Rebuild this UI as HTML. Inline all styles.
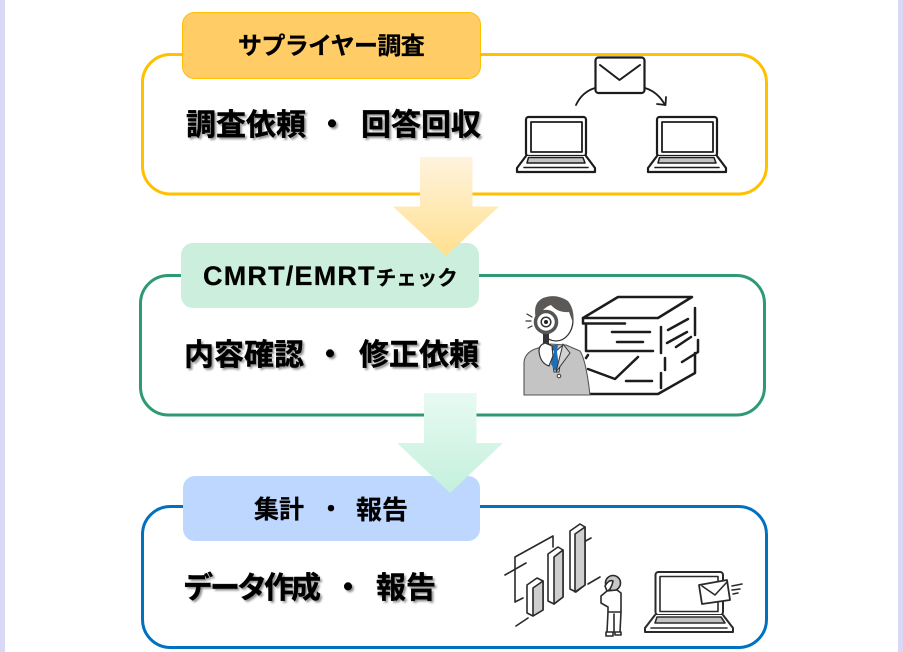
<!DOCTYPE html>
<html lang="ja"><head><meta charset="utf-8"><style>
html,body{margin:0;padding:0;background:#fff}
#p{position:relative;width:903px;height:652px;overflow:hidden;background:#fff;font-family:"Liberation Sans","Noto Sans CJK JP",sans-serif;font-weight:700;color:#000}
svg{position:absolute;left:0;top:0}
.t{position:absolute;white-space:pre;line-height:40px;height:40px}
.m{font-size:30px;text-shadow:2px 2px 2px rgba(0,0,0,.45);-webkit-text-stroke:.4px #000}
.h{font-size:24px;-webkit-text-stroke:.25px #000}
</style></head><body><div id="p">
<svg width="903" height="652" viewBox="0 0 903 652" xmlns="http://www.w3.org/2000/svg">
<defs>
<linearGradient id="g1" x1="0" y1="0" x2="0" y2="1"><stop offset="0" stop-color="#FFF3DE"/><stop offset="1" stop-color="#FFE08F"/></linearGradient>
<linearGradient id="g2" x1="0" y1="0" x2="0" y2="1"><stop offset="0" stop-color="#E8FAF3"/><stop offset="1" stop-color="#C4F0DC"/></linearGradient>
<g id="lap" fill="none" stroke="#1c1c1c" stroke-linejoin="round" stroke-linecap="round">
<rect x="526" y="117" width="60" height="39" rx="2.500" fill="#fff" stroke-width="2.200"/>
<rect x="531" y="122" width="51" height="30" fill="#fff" stroke-width="1.800"/>
<path d="M526 156L517 168V172H595V168L586 156" fill="#fff" stroke-width="2.200"/>
<path d="M528.500 157.500H583L585 163H527Z" fill="#c4c4c4" stroke-width="1.500"/>
<path d="M524 167.500H588" stroke-width="1.600"/>
</g>
</defs>
<rect x="0" y="0" width="5" height="652" fill="#D9D9F7"/>
<rect x="898" y="0" width="5" height="652" fill="#D9D9F7"/>

<rect x="142.500" y="54.500" width="624" height="139.500" rx="28" fill="#fff" stroke="#FFC000" stroke-width="3"/>
<rect x="182.500" y="12.500" width="298" height="66" rx="12" fill="#FFCC66" stroke="#FFC000" stroke-width="1"/>

<rect x="140.500" y="275.500" width="624" height="139.500" rx="28" fill="#fff" stroke="#2E9A72" stroke-width="3"/>
<rect x="181" y="243" width="298" height="65" rx="12" fill="#CCEEDD"/>

<rect x="142.500" y="506.500" width="624" height="141" rx="28" fill="#fff" stroke="#0070C0" stroke-width="3"/>
<rect x="183" y="476" width="297" height="65" rx="12" fill="#BDD7FF"/>

<path d="M420 157H472.500V206.500H499L446 256L393 206.500H420Z" fill="url(#g1)"/>
<path d="M424 393H476.500V443H503L450 493L397 443H424Z" fill="url(#g2)"/>

<!-- icon 1 -->
<use href="#lap"/>
<use href="#lap" x="131"/>
<g fill="none" stroke="#1c1c1c" stroke-linecap="round" stroke-linejoin="round">
<rect x="595.500" y="57.500" width="49" height="35.500" rx="3" fill="#fff" stroke-width="2.200"/>
<path d="M600 65L619.500 80L640 65" stroke-width="2"/>
<path d="M576 105Q582 92 595 88" stroke-width="1.800"/>
<path d="M645 88Q658 92 665 105" stroke-width="1.800"/>
<path d="M657 104L665.500 105L666 97" stroke-width="1.800"/>
</g>

<!-- icon 2 -->
<g fill="none" stroke="#1c1c1c" stroke-width="2.500" stroke-linecap="round" stroke-linejoin="round">
<path d="M583 318L618 297H692L658 318Z" fill="#fff"/>
<path d="M583 318V323.500H625"/>
<path d="M586 325V351H653"/>
<path d="M612 332H650M617 342H643"/>
<path d="M588 369L615 379L638 357"/>
<path d="M588 355L586 358"/>
<path d="M626 381H652"/>
<path d="M590 394H658L695 373V353"/>
<path d="M661 327V353M661 373V388M665 358V370"/>
<path d="M668 330L688 319M667 343L687 332M676 347L691 337"/>
<path d="M682 362L698 352V340"/>
<path d="M695 308V335"/>
</g>
<g stroke-linejoin="round" stroke-linecap="round">
<path d="M524 395V362Q525 353 535 349L550 344L566 345L580 351Q586 360 590 395Z" fill="#c4c4c4" stroke="#555" stroke-width="1.100"/>
<path d="M550 344L555 352L563 345L559 372L554 372Z" fill="#fff" stroke="#333" stroke-width="1"/>
<path d="M552 345H558L557 352L559 366L555 371L551 364L554 352Z" fill="#1E6FB8"/>
<path d="M563 344L556 372L570 353Z" fill="#d2d2d2" stroke="#333" stroke-width="1"/>
<ellipse cx="556" cy="320" rx="17" ry="21" fill="#fff" stroke="#333" stroke-width="1.300"/>
<path d="M537 322Q531 304 543 298Q556 293 568 301Q575 310 573 323L569 312Q558 313 551 305Q541 308 537 322Z" fill="#5c5856"/>
<path d="M543 331H549V346H543Z" fill="#333"/>
<path d="M539 351Q539 345 545 343L552 346L553 356L549 366Q540 363 539 351Z" fill="#fff" stroke="#333" stroke-width="1.200"/>
<circle cx="546" cy="322" r="10.500" fill="#fff" stroke="#555" stroke-width="3.500"/>
<circle cx="546" cy="322" r="4.800" fill="#fff" stroke="#333" stroke-width="1.500"/>
<circle cx="546" cy="322" r="2" fill="#222"/>
<path d="M527 314L532 317M526 321H531M528 328L532 326" stroke="#333" stroke-width="1.200" fill="none"/>
<circle cx="559" cy="376" r="1.800" fill="#fff" stroke="#333"/>
</g>

<!-- icon 3 -->
<g fill="none" stroke="#2a2a2a" stroke-width="1.600" stroke-linecap="round" stroke-linejoin="round">
<path d="M523 598L515 602V557L553 536V547"/>
<path d="M505 575L526 563M516 626L528 618M582 543L591 538M588 584L600 577"/>
<path d="M527 585L537 578L543 581V610L533 616L527 613Z" fill="#fff"/>
<path d="M533 588L543 581V610L533 616Z" fill="#cfcfcf"/>
<path d="M548 554L558 547L563 550V597L554 604L548 601Z" fill="#fff"/>
<path d="M554 557L563 550V597L554 604Z" fill="#cfcfcf"/>
<path d="M570 531L580 524L585 527V585L576 592L570 589Z" fill="#fff"/>
<path d="M575 534L585 527V585L575 592Z" fill="#cfcfcf"/>
<circle cx="613" cy="583" r="7.500" fill="#c8c8c8"/>
<path d="M605 586Q609 579 613 581Q611 590 607 591Z" fill="#fff"/>
<path d="M607 591L601 596V603L608 607V612H621V593L617 590Z" fill="#fff"/>
<path d="M608 612L607 632M621 612L620 632M614 614V632"/>
<path d="M606 632H613V636H606ZM615 632H621V635H615Z" fill="#fff"/>
<rect x="655.500" y="572" width="67.500" height="43" rx="3" fill="#fff" stroke-width="2"/>
<rect x="660" y="576.500" width="58" height="35" fill="#fff"/>
<path d="M655 615L645 628V632H733V628L723 615" fill="#fff" stroke-width="2"/>
<path d="M657 617H721L725 623H655Z" fill="#c4c4c4"/>
<path d="M651 628H727"/>
<path d="M699 585L727 580L730 600L702 604Z" fill="#fff" stroke-width="1.800"/>
<path d="M702 586L715 595L727 582" stroke-width="1.600"/>
<path d="M732 586L742 584M732 590L740 589M733 594L738 593"/>
</g>
</svg>

<div class="t h" style="left:238px;top:27px;letter-spacing:-.65px">サプライヤー調査</div>
<div class="t m" style="left:186px;top:106px">調査依頼</div>
<div class="t m" style="left:317px;top:106px">・</div>
<div class="t m" style="left:361px;top:106px">回答回収</div>

<div class="t h" style="left:203px;top:256px;font-size:27px;letter-spacing:1.200px">CMRT/EMRT<span style="font-size:20.500px;letter-spacing:0">チェック</span></div>
<div class="t m" style="left:184px;top:336px">内容確認</div>
<div class="t m" style="left:315px;top:336px">・</div>
<div class="t m" style="left:359px;top:336px">修正依頼</div>

<div class="t h" style="left:254px;top:490px;font-size:25px">集計</div>
<div class="t h" style="left:319px;top:490px">・</div>
<div class="t h" style="left:356px;top:490px;font-size:26px">報告</div>
<div class="t m" style="left:183px;top:569px;letter-spacing:-3px">データ作成</div>
<div class="t m" style="left:333px;top:569px">・</div>
<div class="t m" style="left:376px;top:569px">報告</div>
</div></body></html>
